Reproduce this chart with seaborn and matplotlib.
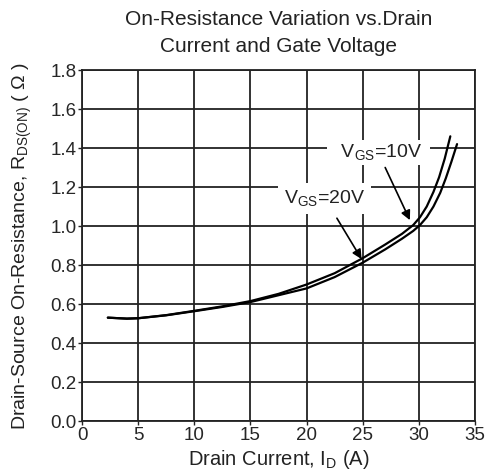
import numpy as np
import pandas as pd
import matplotlib
matplotlib.use("Agg")
import matplotlib.pyplot as plt
import seaborn as sns

# curves
id_10v = [2.3, 4, 5, 7.5, 10, 12.5, 15, 17.5, 20, 22.5, 25, 27, 28.5, 29.5,
          30.1, 30.7, 31.3, 31.8, 32.3, 32.8]
rds_10v = [0.53, 0.525, 0.527, 0.543, 0.565, 0.588, 0.615, 0.652, 0.70, 0.758, 0.835, 0.905, 0.96, 1.005,
           1.045, 1.10, 1.175, 1.25, 1.345, 1.46]
id_20v = [2.3, 4, 5, 7.5, 10, 12.5, 15, 17.5, 20, 22.5, 25, 27, 28.5, 29.5,
          30.1, 30.7, 31.3, 31.9, 32.4, 32.9, 33.4]
rds_20v = [0.53, 0.525, 0.527, 0.542, 0.563, 0.585, 0.61, 0.645, 0.68, 0.738, 0.812, 0.88, 0.935, 0.975,
           1.005, 1.045, 1.10, 1.17, 1.245, 1.33, 1.42]

x_ticks = [0, 5, 10, 15, 20, 25, 30, 35]
y_ticks = [0.0, 0.2, 0.4, 0.6, 0.8, 1.0, 1.2, 1.4, 1.6, 1.8]

sns.set_style("white")
plt.rcParams['font.family'] = ['Liberation Sans', 'DejaVu Sans']
plt.rcParams['mathtext.fontset'] = 'custom'
plt.rcParams['mathtext.rm'] = 'Liberation Sans'

df = pd.concat([
    pd.DataFrame({'Id': id_10v, 'Rds': rds_10v, 'Vgs': '10V'}),
    pd.DataFrame({'Id': id_20v, 'Rds': rds_20v, 'Vgs': '20V'}),
])

fig = plt.figure(figsize=(4.89, 4.74), dpi=100)
ax = fig.add_axes([0.1677, 0.1118, 0.8037, 0.7405])

sns.lineplot(data=df, x='Id', y='Rds', hue='Vgs', palette=['black', 'black'],
             linewidth=1.6, legend=False, ax=ax, sort=False)

ax.set_xlim(0, 35)
ax.set_ylim(0, 1.8)
ax.set_xticks(x_ticks)
ax.set_yticks(y_ticks)
ax.set_yticklabels([f"{v:.1f}" for v in y_ticks])
ax.grid(True, color='#222222', linewidth=1.3)
ax.set_axisbelow(True)
for s in ax.spines.values():
    s.set_color('#222222')
    s.set_linewidth(1.3)
ax.tick_params(axis='both', labelsize=13.5, length=3, width=1, color='#222222',
               pad=1, direction='out', left=True, bottom=True)

# labels with white boxes that break the grid, arrows drawn separately
ax.text(26.4, 1.377, r"  V$_{\rm GS}$=10V  ", fontsize=14, ha='center', va='center',
        color='#222222', bbox=dict(facecolor='white', edgecolor='none', pad=2))
ax.text(21.6, 1.14, r"V$_{\rm GS}$=20V", fontsize=14, ha='center', va='center',
        color='#222222', bbox=dict(facecolor='white', edgecolor='none', pad=4))
arrow = dict(arrowstyle='-|>', color='black', lw=1.2, shrinkA=0, shrinkB=0,
             mutation_scale=14)
ax.annotate("", xy=(29.2, 1.03), xytext=(27.0, 1.30), arrowprops=arrow)
ax.annotate("", xy=(24.9, 0.83), xytext=(22.7, 1.04), arrowprops=arrow)

ax.set_title("On-Resistance Variation vs.Drain\nCurrent and Gate Voltage",
             fontsize=15, color='#222222', pad=13, linespacing=1.5)
ax.set_xlabel(r"Drain Current, I$_{\rm D}$ (A)", fontsize=14.5, color='#222222', labelpad=3)
ax.set_ylabel(r"Drain-Source On-Resistance, R$_{\rm DS(ON)}$ ( $\Omega$ )", fontsize=14,
              color='#222222', labelpad=12)

fig.savefig("out.png", dpi=100)
